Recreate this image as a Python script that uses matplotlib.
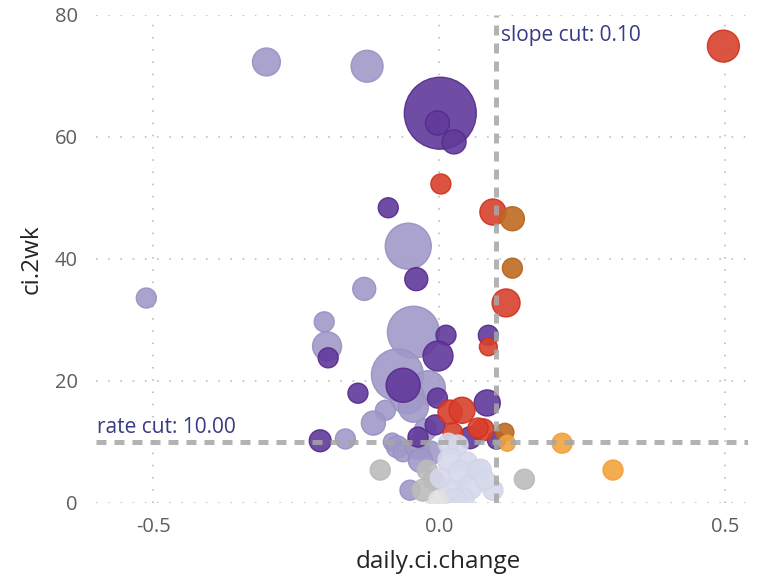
import numpy as np
import matplotlib
matplotlib.use("Agg")
import matplotlib.pyplot as plt

plt.rcParams["font.family"] = ["Open Sans", "DejaVu Sans"]

# county groups: x = daily.ci.change, y = ci.2wk, w = bubble weight
lp_x = [-0.302, -0.126, -0.054, -0.131, -0.201, -0.512, -0.196, -0.045, -0.073, -0.019,
        -0.056, -0.045, -0.094, -0.115, -0.164, -0.082, -0.073, -0.063, -0.038, -0.016,
        -0.033, -0.051, -0.024]
lp_y = [72.3, 71.6, 42.1, 35.1, 29.7, 33.6, 25.7, 28.0, 21.0, 18.9,
        17.4, 15.7, 15.2, 13.1, 10.5, 10.0, 9.2, 8.4, 9.2, 8.2,
        7.0, 2.1, 12.0]
lp_w = [7.8, 10.2, 21.2, 5.3, 4.0, 4.0, 8.4, 27.0, 27.0, 11.6,
        11.6, 9.0, 4.0, 5.8, 4.0, 3.2, 4.8, 4.0, 5.8, 5.8,
        5.8, 4.0, 4.8]

dp_x = [0.002, -0.003, 0.026, -0.089, -0.040, 0.012, 0.086, -0.002, -0.194, -0.063,
        -0.142, -0.003, 0.084, -0.007, -0.037, 0.054, 0.100, -0.208]
dp_y = [63.9, 62.3, 59.2, 48.4, 36.7, 27.5, 27.5, 24.1, 23.8, 19.3,
        18.0, 17.2, 16.4, 12.8, 10.8, 10.7, 10.3, 10.2]
dp_w = [51.8, 5.8, 5.8, 4.0, 5.3, 4.0, 4.0, 9.0, 4.0, 11.6,
        4.0, 4.0, 6.8, 4.0, 4.0, 4.8, 3.2, 4.8]

rd_x = [0.497, 0.003, 0.094, 0.117, 0.086, 0.019, 0.040, 0.024, 0.077, 0.068]
rd_y = [74.9, 52.3, 47.7, 32.8, 25.6, 14.9, 15.2, 11.5, 12.0, 12.3]
rd_w = [10.2, 4.0, 6.8, 7.8, 3.2, 5.8, 6.8, 4.0, 4.8, 4.0]

br_x = [0.128, 0.128, 0.115]
br_y = [46.6, 38.5, 11.6]
br_w = [5.8, 4.0, 3.2]

or_x = [0.119, 0.215, 0.304]
or_y = [9.8, 9.8, 5.4]
or_w = [2.6, 4.0, 4.0]

gy_x = [-0.103, 0.149, -0.021, -0.010, -0.028]
gy_y = [5.4, 3.9, 5.4, 3.8, 2.1]
gy_w = [4.0, 4.0, 4.0, 4.0, 4.8]

lv_x = [0.016, 0.033, 0.019, 0.049, 0.037, 0.019, 0.054, 0.094, 0.002, 0.066,
        0.072, 0.080, 0.040, 0.028]
lv_y = [9.8, 9.5, 7.0, 6.7, 4.9, 2.1, 2.6, 2.1, 4.1, 5.4,
        5.4, 3.8, 0.6, 0.6]
lv_w = [4.0, 4.0, 5.8, 4.0, 5.8, 4.8, 5.8, 4.0, 4.0, 4.0,
        4.8, 4.0, 5.8, 4.8]

lg_x = [-0.002]
lg_y = [0.5]
lg_w = [4.0]

SLOPE_CUT = 0.10
RATE_CUT = 10.00

groups = [
    (lp_x, lp_y, lp_w, "#a099c8", "#9890c4"),
    (dp_x, dp_y, dp_w, "#61399a", "#552a8a"),
    (rd_x, rd_y, rd_w, "#d8402c", "#d0301c"),
    (br_x, br_y, br_w, "#bf6a20", "#b86218"),
    (or_x, or_y, or_w, "#f2a43c", "#f0a038"),
    (gy_x, gy_y, gy_w, "#bcbcbc", "#b8b8b8"),
    (lv_x, lv_y, lv_w, "#d6d8eb", "#d2d4e8"),
    (lg_x, lg_y, lg_w, "#e2e2e2", "#dddddd"),
]

fig = plt.figure(figsize=(7.6, 5.74), dpi=100)
ax = fig.add_axes([96 / 760, 1 - 503 / 574, 652 / 760, 488 / 574])

for gx, gy, gw, fc, ec in groups:
    ax.scatter(gx, gy, s=np.array(gw) * 51.8, c=fc, edgecolors=ec,
               linewidths=1.0, alpha=0.9, zorder=3)

# cut lines
ax.axvline(SLOPE_CUT, color="#a6a6a6", lw=3.6, dashes=(2, 1.6), alpha=0.85, zorder=4)
ax.axhline(RATE_CUT, color="#a6a6a6", lw=3.6, dashes=(2, 1.6), alpha=0.85, zorder=4)

ax.annotate(f"slope cut: {SLOPE_CUT:.2f}", xy=(SLOPE_CUT, 80), xytext=(3, -7),
            textcoords="offset points", ha="left", va="top",
            fontsize=15, color="#383b85", zorder=5)
ax.annotate(f"rate cut: {RATE_CUT:.2f}", xy=(-0.6, RATE_CUT), xytext=(1, 3),
            textcoords="offset points", ha="left", va="bottom",
            fontsize=15, color="#383b85", zorder=5)

ax.set_xlim(-0.6, 0.54)
ax.set_ylim(0, 80)
ax.set_xticks([-0.5, 0.0, 0.5])
ax.set_xticklabels(["-0.5", "0.0", "0.5"])
ax.set_yticks([0, 20, 40, 60, 80])
ax.grid(True, color="#b4b4b4", lw=1.1, linestyle=(0, (1, 7)), zorder=0)
ax.set_axisbelow(True)
for sp in ax.spines.values():
    sp.set_visible(False)
ax.tick_params(length=0, labelsize=14.5, labelcolor="#605e5c")
ax.tick_params(axis="y", pad=13)
ax.tick_params(axis="x", pad=10)

ax.set_xlabel("daily.ci.change", fontsize=17.5, color="#252423")
ax.set_ylabel("ci.2wk", fontsize=17.5, color="#252423")
ax.xaxis.set_label_coords(0.525, -0.096)
ax.yaxis.set_label_coords(-0.081, 0.5)

fig.savefig("out.png", dpi=100)
